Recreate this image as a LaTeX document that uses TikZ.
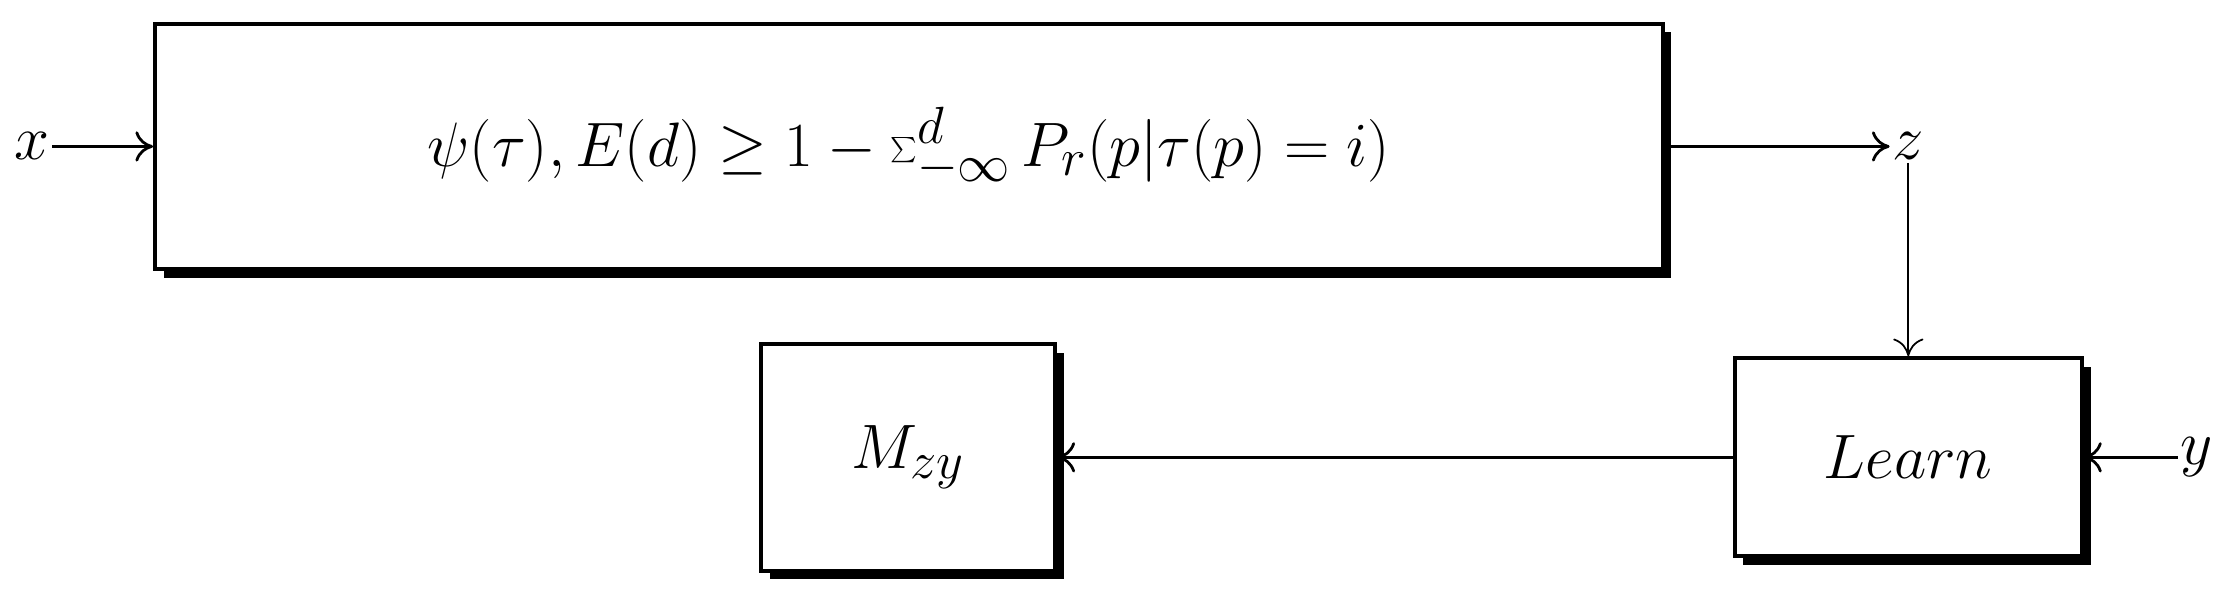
\documentclass[tikz,border=0pt]{standalone}
\usetikzlibrary{shadows,arrows.meta}
\begin{document}
\begin{tikzpicture}[
  blk/.style={draw=black,line width=1.6pt,fill=white,inner sep=0pt,
    drop shadow={shadow xshift=0.12cm,shadow yshift=-0.12cm,fill=black,opacity=1}},
  lbl/.style={inner sep=1pt},
  conn/.style={line width=1.1pt,-{To[length=7pt,width=12pt]}},
  font=\fontsize{30}{36}\selectfont]
\useasboundingbox (0,0) rectangle (31.2,8.35);
\node[blk,minimum width=21cm,minimum height=3.42cm] (F) at (12.66,6.31)
  {$\psi(\tau),E(d)\geq 1-\sum_{-\infty}^{d}P_r(p|\tau(p)=i)$};
\node[blk,minimum width=4.84cm,minimum height=2.76cm] (L) at (26.58,1.98) {$Learn$};
\node[blk,minimum width=4.1cm,minimum height=3.16cm] (M) at (12.65,1.98) {$M_{zy}$};
\node[lbl] (x) at (0.44,6.31) {$x$};
\node[lbl] (z) at (26.58,6.31) {$z$};
\node[lbl] (y) at (30.6,1.98) {$y$};
\draw[conn] (x) -- (F.west);
\draw[conn] (F.east) -- (z);
\draw[conn,line width=0.7pt] (z) -- (L.north);
\draw[conn] (y) -- (L.east);
\draw[conn] (L.west) -- (M.east);
\end{tikzpicture}
\end{document}
